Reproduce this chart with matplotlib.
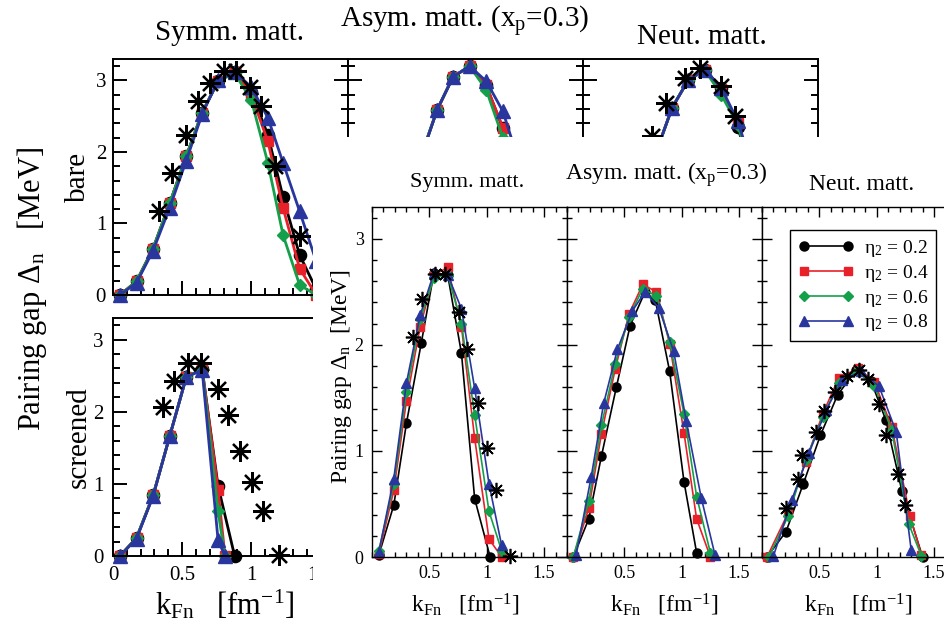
import matplotlib
matplotlib.use('Agg')
import matplotlib.pyplot as plt
from matplotlib.ticker import MultipleLocator, FixedLocator

plt.rcParams['font.family'] = ['Liberation Serif', 'DejaVu Serif']
plt.rcParams['mathtext.fontset'] = 'custom'
plt.rcParams['mathtext.rm'] = 'Liberation Serif'
plt.rcParams['mathtext.it'] = 'Liberation Serif:italic'

# ---------------- data: background figure (bare / screened) ----------------
k_bg = [0.05, 0.17, 0.29, 0.41, 0.53, 0.645, 0.76, 0.88, 1.0, 1.12, 1.23, 1.35, 1.47]

bare_symm_02 = [0.0, 0.19, 0.65, 1.28, 1.94, 2.55, 2.99, 3.12, 2.84, 2.24, 1.37, 0.56, 0.08]
bare_symm_04 = [0.0, 0.19, 0.65, 1.28, 1.94, 2.55, 2.99, 3.12, 2.80, 2.15, 1.22, 0.37, 0.0]
bare_symm_06 = [0.0, 0.19, 0.65, 1.28, 1.94, 2.55, 2.99, 3.10, 2.73, 1.85, 0.84, 0.14, 0.0]
bare_symm_08 = [0.0, 0.17, 0.62, 1.22, 1.88, 2.53, 3.00, 3.12, 2.91, 2.48, 1.85, 1.17, 0.47]
bare_symm_star_k = [0.336, 0.43, 0.53, 0.615, 0.70, 0.80, 0.89, 0.99, 1.07, 1.17, 1.35]
bare_symm_star = [1.17, 1.71, 2.24, 2.71, 2.97, 3.13, 3.13, 2.91, 2.64, 1.80, 0.82]

bare_asym_02 = [0.0, 0.15, 0.5, 1.1, 1.95, 2.59, 3.05, 3.2, 2.93, 2.33, 1.6, 0.7, 0.05]
bare_asym_04 = [0.0, 0.15, 0.5, 1.1, 1.95, 2.59, 3.05, 3.2, 2.93, 2.34, 1.5, 0.6, 0.05]
bare_asym_06 = [0.0, 0.15, 0.5, 1.1, 1.95, 2.59, 3.05, 3.2, 2.87, 2.20, 1.3, 0.4, 0.0]
bare_asym_08 = [0.0, 0.14, 0.48, 1.08, 1.93, 2.59, 3.05, 3.2, 2.99, 2.57, 1.9, 1.1, 0.4]

bare_neut_02 = [0.0, 0.2, 0.6, 1.2, 2.0, 2.62, 3.0, 3.15, 2.90, 2.35, 1.60, 0.80, 0.15]
bare_neut_04 = [0.0, 0.2, 0.6, 1.2, 2.0, 2.62, 3.0, 3.15, 2.88, 2.40, 1.65, 0.85, 0.20]
bare_neut_06 = [0.0, 0.2, 0.6, 1.2, 2.0, 2.62, 3.0, 3.15, 2.80, 2.38, 1.62, 0.82, 0.15]
bare_neut_08 = [0.0, 0.2, 0.6, 1.2, 2.0, 2.62, 3.0, 3.15, 2.90, 2.43, 1.75, 0.95, 0.25]
bare_neut_star_k = [0.38, 0.50, 0.60, 0.74, 0.85, 1.0, 1.1, 1.22]
bare_neut_star = [1.6, 2.22, 2.69, 3.04, 3.18, 2.92, 2.5, 1.9]

k_scr_02 = [0.05, 0.17, 0.29, 0.41, 0.53, 0.645, 0.76, 0.88]
k_scr = [0.05, 0.17, 0.29, 0.41, 0.53, 0.645, 0.76, 0.81]
scr_symm_02 = [0.0, 0.25, 0.84, 1.66, 2.48, 2.59, 0.97, 0.0]
scr_symm_04 = [0.0, 0.25, 0.84, 1.66, 2.48, 2.59, 0.92, 0.0]
scr_symm_06 = [0.0, 0.25, 0.84, 1.66, 2.48, 2.59, 0.62, 0.0]
scr_symm_08 = [0.0, 0.24, 0.83, 1.66, 2.48, 2.58, 0.22, 0.0]

# asterisks (symmetric matter, screened) - same in both figures
symm_star_k = [0.36, 0.44, 0.545, 0.64, 0.76, 0.83, 0.92, 1.005, 1.085, 1.20]
symm_star = [2.07, 2.43, 2.67, 2.67, 2.31, 1.96, 1.45, 1.03, 0.63, 0.01]

# ---------------- data: foreground figure ----------------
symm_k_02 = [0.06, 0.19, 0.30, 0.43, 0.54, 0.66, 0.78, 0.895, 1.03]
symm_02 = [0.02, 0.49, 1.26, 2.02, 2.68, 2.66, 1.92, 0.55, 0.0]
symm_k = [0.06, 0.19, 0.30, 0.42, 0.54, 0.66, 0.78, 0.895, 1.02, 1.13]
symm_04 = [0.03, 0.63, 1.47, 2.17, 2.66, 2.73, 2.17, 1.12, 0.17, 0.0]
symm_06 = [0.06, 0.69, 1.56, 2.24, 2.63, 2.66, 2.20, 1.34, 0.43, 0.06]
symm_08 = [0.05, 0.74, 1.64, 2.28, 2.68, 2.66, 2.34, 1.59, 0.69, 0.11]

asym_k_02 = [0.055, 0.19, 0.30, 0.43, 0.55, 0.68, 0.77, 0.895, 1.02, 1.13]
asym_02 = [0.0, 0.36, 0.95, 1.60, 2.18, 2.50, 2.42, 1.75, 0.71, 0.04]
asym_k = [0.055, 0.19, 0.30, 0.42, 0.54, 0.66, 0.78, 0.895, 1.02, 1.13, 1.25]
asym_04 = [0.0, 0.46, 1.16, 1.77, 2.29, 2.57, 2.50, 2.01, 1.17, 0.36, 0.0]
asym_06 = [0.0, 0.53, 1.24, 1.82, 2.26, 2.53, 2.46, 2.03, 1.35, 0.57, 0.04]
asym_k_08 = [0.08, 0.21, 0.32, 0.44, 0.57, 0.68, 0.80, 0.93, 1.04, 1.17, 1.29]
asym_08 = [0.02, 0.75, 1.45, 1.96, 2.32, 2.50, 2.35, 1.94, 1.28, 0.56, 0.02]

neut_k_02 = [0.044, 0.21, 0.36, 0.51, 0.66, 0.82, 0.95, 1.08, 1.22, 1.40]
neut_02 = [0.0, 0.24, 0.69, 1.15, 1.53, 1.76, 1.66, 1.29, 0.62, 0.0]
neut_k_04 = [0.044, 0.23, 0.38, 0.53, 0.67, 0.84, 0.98, 1.13, 1.29, 1.39]
neut_04 = [0.0, 0.42, 0.90, 1.35, 1.69, 1.78, 1.65, 1.23, 0.39, 0.02]
neut_k_06 = [0.06, 0.23, 0.38, 0.53, 0.67, 0.83, 0.98, 1.13, 1.28, 1.39]
neut_06 = [0.0, 0.39, 0.91, 1.32, 1.64, 1.75, 1.61, 1.20, 0.31, 0.01]
neut_k_08 = [0.10, 0.26, 0.41, 0.56, 0.70, 0.86, 1.02, 1.17, 1.30]
neut_08 = [0.01, 0.54, 0.98, 1.39, 1.67, 1.75, 1.61, 1.18, 0.07]
neut_star_k = [0.21, 0.31, 0.35, 0.47, 0.54, 0.64, 0.74, 0.85, 0.92, 1.02, 1.08, 1.19, 1.25]
neut_star = [0.46, 0.74, 0.96, 1.18, 1.38, 1.56, 1.71, 1.76, 1.68, 1.44, 1.15, 0.78, 0.49]

eta_labels = ['0.2', '0.4', '0.6', '0.8']
colors = ['black', '#e8202a', '#14a04a', '#29369e']
markers = ['o', 's', 'D', '^']
msizes = [6.5, 5.8, 4.6, 7.0]
asterisk = (8, 2, 0)

W, H = 945, 631


def px_rect(left, top, width, height):
    return [left / W, 1 - (top + height) / H, width / W, height / H]


def setup(ax, lw, major, minor, labelsize, pad, top):
    ax.set_xlim(0, 1.7)
    ax.set_ylim(0, 3.3)
    ax.xaxis.set_minor_locator(MultipleLocator(0.1))
    ax.yaxis.set_major_locator(FixedLocator([0, 1, 2, 3]))
    ax.yaxis.set_minor_locator(MultipleLocator(0.2))
    ax.tick_params(which='both', direction='in', top=top, right=True,
                   width=lw, labelsize=labelsize, pad=pad)
    ax.tick_params(which='major', length=major)
    ax.tick_params(which='minor', length=minor)
    for s in ax.spines.values():
        s.set_linewidth(lw)


def curves(ax, ks, ys, scale, lw):
    lines = []
    for k, y, c, m, s in zip(ks, ys, colors, markers, msizes):
        ln, = ax.plot(k, y, color=c, marker=m, ms=s * scale, mec=c, lw=lw, clip_on=False)
        lines.append(ln)
    return lines


fig = plt.figure(figsize=(9.45, 6.31), dpi=100)

# ---------------- background figure ----------------
bg = []
for left in [113, 348, 583]:
    ax = fig.add_axes(px_rect(left, 59, 235, 236), zorder=1)
    setup(ax, 1.4, 10, 5, 15, 5, False)
    ax.set_xticks([0, 0.5, 1, 1.5], ['', '', '', ''])
    ax.set_yticks([0, 1, 2, 3], ['0', '1', '2', '3'] if left == 113 else [''] * 4)
    bg.append(ax)

curves(bg[0], [k_bg] * 4, [bare_symm_02, bare_symm_04, bare_symm_06, bare_symm_08], 1.35, 2.0)
bg[0].plot(bare_symm_star_k, bare_symm_star, ls='none', marker=asterisk, ms=15, mew=1.6,
           color='black', clip_on=False)
curves(bg[1], [k_bg] * 4, [bare_asym_02, bare_asym_04, bare_asym_06, bare_asym_08], 1.35, 2.0)
curves(bg[2], [k_bg] * 4, [bare_neut_02, bare_neut_04, bare_neut_06, bare_neut_08], 1.35, 2.0)
bg[2].plot(bare_neut_star_k, bare_neut_star, ls='none', marker=asterisk, ms=15, mew=1.6,
           color='black', clip_on=False)

ax_scr = fig.add_axes(px_rect(113, 318, 235, 238), zorder=1)
setup(ax_scr, 1.4, 10, 5, 15, 7, False)
ax_scr.set_xticks([0, 0.5, 1, 1.5], ['0', '0.5', '1', '1.5'])
ax_scr.set_yticks([0, 1, 2, 3], ['0', '1', '2', '3'])
curves(ax_scr, [k_scr_02, k_scr, k_scr, k_scr],
       [scr_symm_02, scr_symm_04, scr_symm_06, scr_symm_08], 1.35, 2.0)
ax_scr.plot(symm_star_k, symm_star, ls='none', marker=asterisk, ms=15, mew=1.6,
            color='black', clip_on=False)

fig.text(230 / W, 1 - 33 / H, 'Symm. matt.', ha='center', va='center', fontsize=21)
fig.text(465 / W, 1 - 22 / H, r'Asym. matt. (x$_\mathregular{p}$=0.3)', ha='center', va='center', fontsize=21)
fig.text(702 / W, 1 - 37 / H, 'Neut. matt.', ha='center', va='center', fontsize=21)
fig.text(78 / W, 1 - 177 / H, 'bare', rotation=90, ha='center', va='center', fontsize=21)
fig.text(79 / W, 1 - 437 / H, 'screened', rotation=90, ha='center', va='center', fontsize=21)
fig.text(32 / W, 1 - 289 / H, r'Pairing gap Δ$_\mathregular{n}$   [MeV]', rotation=90,
         ha='center', va='center', fontsize=22)
fig.text(225 / W, 1 - 605 / H, r'k$_\mathregular{Fn}$   [fm$^\mathregular{-1}$]',
         ha='center', va='center', fontsize=22)

# white sheet of the foreground figure
fig.add_artist(plt.Rectangle((313 / W, 0), 1, 1 - 137 / H, transform=fig.transFigure,
                             facecolor='white', edgecolor='none', zorder=5))

# ---------------- foreground figure ----------------
fg = []
for i in range(3):
    ax = fig.add_axes(px_rect(372 + 195 * i, 207, 195, 350), zorder=10)
    setup(ax, 1.0, 7, 3.5, 13, 6, True)
    ax.set_xticks([0.5, 1, 1.5], ['0.5', '1', '1.5'])
    ax.set_yticks([0, 1, 2, 3], ['0', '1', '2', '3'] if i == 0 else [''] * 4)
    fg.append(ax)

curves(fg[0], [symm_k_02, symm_k, symm_k, symm_k], [symm_02, symm_04, symm_06, symm_08], 1.0, 1.2)
fg[0].plot(symm_star_k, symm_star, ls='none', marker=asterisk, ms=11, mew=1.2, color='black',
           clip_on=False, zorder=4)
curves(fg[1], [asym_k_02, asym_k, asym_k, asym_k_08], [asym_02, asym_04, asym_06, asym_08], 1.0, 1.2)
neut_lines = curves(fg[2], [neut_k_02, neut_k_04, neut_k_06, neut_k_08],
                    [neut_02, neut_04, neut_06, neut_08], 1.0, 1.2)
fg[2].plot(neut_star_k, neut_star, ls='none', marker=asterisk, ms=11, mew=1.2, color='black',
           clip_on=False, zorder=4)

leg = fg[2].legend(neut_lines, ['η$_\\mathregular{2}$ = ' + e for e in eta_labels],
                   loc='upper left', bbox_to_anchor=(790 / W, 1 - 230 / H),
                   bbox_transform=fig.transFigure, borderaxespad=0, fontsize=14, numpoints=2,
                   handlelength=2.9, handletextpad=0.5, labelspacing=0.2,
                   borderpad=0.4, fancybox=False, framealpha=1, edgecolor='black')
leg.get_frame().set_linewidth(1.0)

fig.text(467 / W, 1 - 183 / H, 'Symm. matt.', ha='center', va='center', fontsize=16, zorder=20)
fig.text(666 / W, 1 - 175 / H, r'Asym. matt. (x$_\mathregular{p}$=0.3)', ha='center', va='center',
         fontsize=17, zorder=20)
fig.text(862 / W, 1 - 185 / H, 'Neut. matt.', ha='center', va='center', fontsize=17, zorder=20)
fig.text(342 / W, 1 - 377 / H, r'Pairing gap Δ$_\mathregular{n}$  [MeV]', rotation=90,
         ha='center', va='center', fontsize=17, zorder=20)
for cx in [465, 664, 858]:
    fig.text(cx / W, 1 - 605 / H, r'k$_\mathregular{Fn}$   [fm$^\mathregular{-1}$]',
             ha='center', va='center', fontsize=17, zorder=20)

fig.savefig('out.png', dpi=100)
